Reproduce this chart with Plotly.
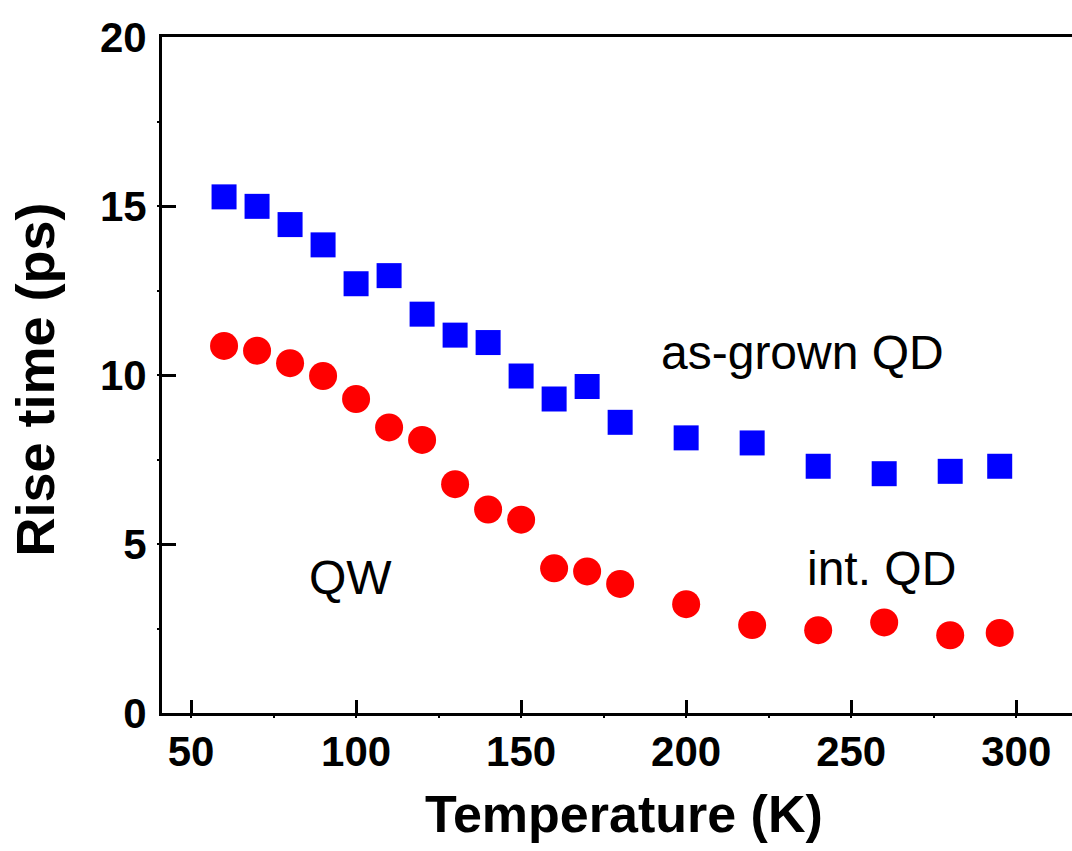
import plotly.graph_objects as go

temps = [60, 70, 80, 90, 100, 110, 120, 130, 140, 150, 160, 170, 180, 200, 220, 240, 260, 280, 295]
as_grown_qd = [15.27, 14.99, 14.45, 13.85, 12.70, 12.94, 11.80, 11.18, 10.96, 9.97, 9.29, 9.66, 8.60, 8.14, 7.99, 7.30, 7.08, 7.15, 7.30]
int_qd = [10.86, 10.72, 10.35, 9.97, 9.29, 8.45, 8.08, 6.77, 6.02, 5.72, 4.28, 4.19, 3.82, 3.22, 2.60, 2.45, 2.68, 2.30, 2.37]

x_ticks = [50, 100, 150, 200, 250, 300]
y_ticks = [0, 5, 10, 15, 20]

FONT = "Liberation Sans, Arial, sans-serif"

fig = go.Figure()
fig.add_trace(go.Scatter(x=temps, y=as_grown_qd, mode="markers", name="as-grown QD",
                         marker=dict(symbol="square", size=25, color="#0000FF", line=dict(width=0))))
fig.add_trace(go.Scatter(x=temps, y=int_qd, mode="markers", name="int. QD",
                         marker=dict(symbol="circle", size=28, color="#FF0000", line=dict(width=0))))

fig.update_layout(
    width=1072, height=851,
    margin=dict(l=162, r=0, t=37, b=138),
    paper_bgcolor="white", plot_bgcolor="white",
    showlegend=False,
    font=dict(family=FONT, color="black"),
)
fig.update_xaxes(
    range=[41.2, 316.9], tickvals=x_ticks, ticktext=[f"<b>{v}</b>" for v in x_ticks],
    showgrid=False, zeroline=False,
    showline=True, linecolor="black", linewidth=3, mirror=True,
    ticks="inside", ticklen=13, tickwidth=3, tickcolor="black",
    tickfont=dict(family=FONT, size=42, color="black"),
    ticklabelstandoff=0,
    minor=dict(dtick=25, tick0=0, ticks="outside", ticklen=2, tickwidth=2, tickcolor="black"),
)
fig.update_yaxes(
    range=[0, 20], tickvals=y_ticks, ticktext=[f"<b>{v}</b>" for v in y_ticks],
    showgrid=False, zeroline=False,
    showline=True, linecolor="black", linewidth=3, mirror=False,
    ticks="inside", ticklen=14, tickwidth=3, tickcolor="black",
    tickfont=dict(family=FONT, size=42, color="black"),
    ticklabelstandoff=4,
    minor=dict(dtick=2.5, tick0=0, ticks="outside", ticklen=2, tickwidth=2, tickcolor="black"),
)

fig.add_annotation(text="<b>Temperature (K)</b>", xref="paper", yref="paper", x=0.5077, y=-0.1487,
                   showarrow=False, font=dict(family=FONT, size=52, color="black"),
                   xanchor="center", yanchor="middle")
fig.add_annotation(text="<b>Rise time (ps)</b>", xref="paper", yref="paper", x=-0.139, y=0.4925,
                   showarrow=False, textangle=-90, font=dict(family=FONT, size=54, color="black"),
                   xanchor="center", yanchor="middle")

fig.add_annotation(text="as-grown QD", x=235.2, y=10.68, showarrow=False,
                   font=dict(family=FONT, size=48, color="black"), xanchor="center", yanchor="middle")
fig.add_annotation(text="QW", x=98.2, y=4.01, showarrow=False,
                   font=dict(family=FONT, size=48, color="black"), xanchor="center", yanchor="middle")
fig.add_annotation(text="int. QD", x=259.1, y=4.28, showarrow=False,
                   font=dict(family=FONT, size=48, color="black"), xanchor="center", yanchor="middle")

fig.write_html("out.html")
